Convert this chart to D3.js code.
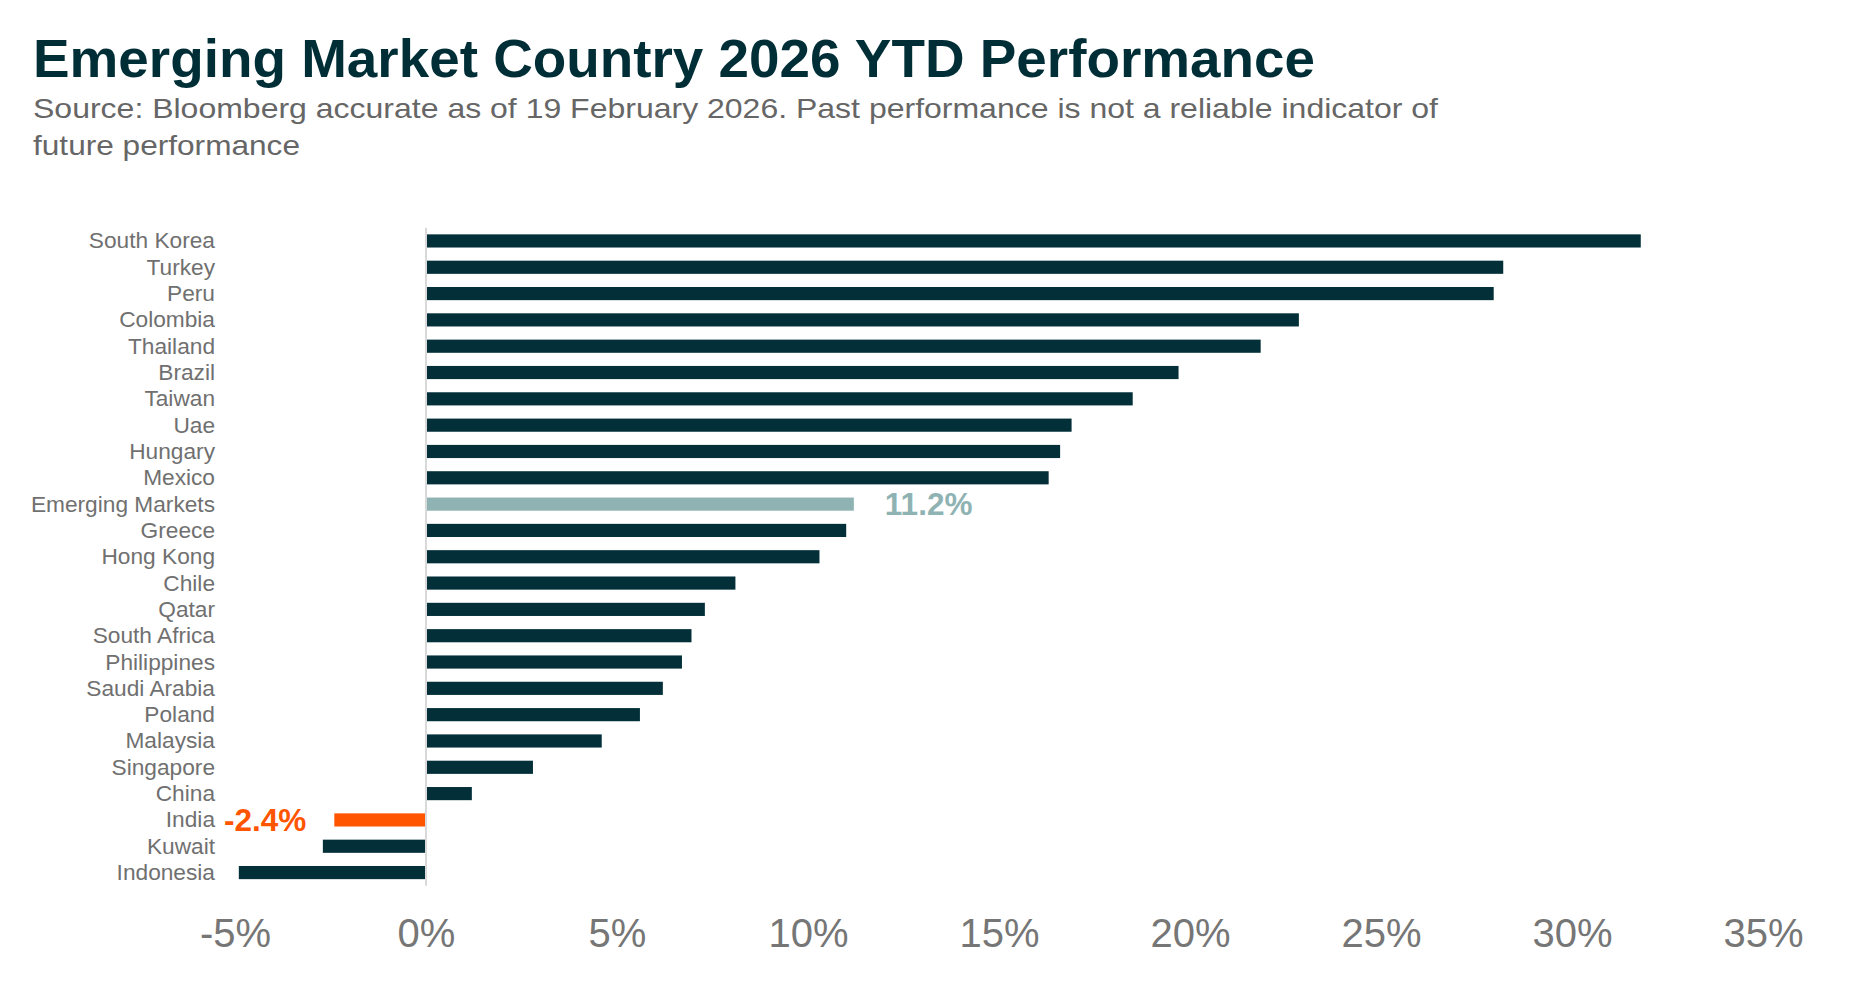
<!DOCTYPE html>
<html>
<head>
<meta charset="utf-8">
<script src="https://cdn.jsdelivr.net/npm/d3@7"></script>
<style>
  body { margin: 0; background: #fff; }
  svg { display: block; font-family: "Liberation Sans", Arial, sans-serif; }
</style>
</head>
<body>
<div id="chart-container"></div>
<script>
const countries = [
  "South Korea", "Turkey", "Peru", "Colombia", "Thailand", "Brazil", "Taiwan",
  "Uae", "Hungary", "Mexico", "Emerging Markets", "Greece", "Hong Kong", "Chile",
  "Qatar", "South Africa", "Philippines", "Saudi Arabia", "Poland", "Malaysia",
  "Singapore", "China", "India", "Kuwait", "Indonesia"
];
const ytdReturns = [
  31.8, 28.2, 27.95, 22.85, 21.85, 19.7, 18.5,
  16.9, 16.6, 16.3, 11.2, 11.0, 10.3, 8.1,
  7.3, 6.95, 6.7, 6.2, 5.6, 4.6,
  2.8, 1.2, -2.4, -2.7, -4.9
];
const tickValues = [-5, 0, 5, 10, 15, 20, 25, 30, 35];
const highlighted = ["Emerging Markets", "India"];
const highlightLabels = ["11.2%", "-2.4%"];

const titleText = "Emerging Market Country 2026 YTD Performance";
const subtitleLines = [
  "Source: Bloomberg accurate as of 19 February 2026. Past performance is not a reliable indicator of",
  "future performance"
];

(function () {
  const width = 1857;
  const height = 985;
  const data = countries.map((name, i) => ({ name, value: ytdReturns[i] }));

  const barColor = "#022f38";
  const colorFor = (name) =>
    name === "Emerging Markets" ? "#8fb3b3" : name === "India" ? "#ff5500" : barColor;

  const x = d3.scaleLinear().domain([-5, 35]).range([235, 1763]);
  const y = d3
    .scaleBand()
    .domain(countries)
    .range([221.2, 892.3])
    .padding(0.5);

  const svg = d3
    .select("#chart-container")
    .append("svg")
    .attr("viewBox", [0, 0, width, height])
    .attr("width", width)
    .attr("height", height);

  svg
    .append("text")
    .attr("x", 33)
    .attr("y", 77)
    .attr("fill", "#002e36")
    .attr("textLength", 1282)
    .attr("lengthAdjust", "spacingAndGlyphs")
    .style("font-size", "54px")
    .style("font-weight", "bold")
    .text(titleText);

  const subtitleWidths = [1405, 267];
  svg
    .append("g")
    .selectAll("text")
    .data(subtitleLines)
    .join("text")
    .attr("x", 33)
    .attr("y", (d, i) => 118 + i * 37)
    .attr("fill", "#666666")
    .attr("textLength", (d, i) => subtitleWidths[i])
    .attr("lengthAdjust", "spacingAndGlyphs")
    .style("font-size", "28.5px")
    .text((d) => d);

  // bars
  svg
    .append("g")
    .selectAll("rect")
    .data(data)
    .join("rect")
    .attr("x", (d) => x(Math.min(0, d.value)))
    .attr("y", (d) => y(d.name))
    .attr("width", (d) => Math.abs(x(d.value) - x(0)))
    .attr("height", y.bandwidth())
    .attr("fill", (d) => colorFor(d.name));

  // zero line
  const step = y.step();
  svg
    .append("line")
    .attr("x1", x(0))
    .attr("x2", x(0))
    .attr("y1", y.range()[0] + step * 0.25)
    .attr("y2", y.range()[1] - step * 0.25)
    .attr("stroke", "#d9d9d9")
    .attr("stroke-width", 2);

  // country labels
  const yAxis = svg
    .append("g")
    .attr("transform", "translate(215,0)")
    .call(d3.axisLeft(y).tickSize(0).tickPadding(0));
  yAxis.select(".domain").remove();
  yAxis
    .selectAll("text")
    .attr("fill", "#707070")
    .attr("dy", "0.33em")
    .style("font-size", "22.7px")
    .style("font-family", "'Liberation Sans', Arial, sans-serif");

  // x axis
  const xAxis = svg
    .append("g")
    .attr("transform", "translate(0,885)")
    .call(
      d3
        .axisBottom(x)
        .tickValues(tickValues)
        .tickSize(0)
        .tickPadding(34)
        .tickFormat((d) => d + "%")
    );
  xAxis.select(".domain").remove();
  xAxis
    .selectAll("text")
    .attr("fill", "#767676")
    .style("font-size", "40px")
    .style("font-family", "'Liberation Sans', Arial, sans-serif");

  // value call-outs
  const callouts = data.filter((d) => highlighted.includes(d.name));
  svg
    .append("g")
    .selectAll("text")
    .data(callouts)
    .join("text")
    .attr("x", (d) => (d.value >= 0 ? x(d.value) + 31 : x(d.value) - 28))
    .attr("y", (d) => y(d.name) + y.bandwidth() / 2)
    .attr("dy", "0.36em")
    .attr("text-anchor", (d) => (d.value >= 0 ? "start" : "end"))
    .attr("fill", (d) => colorFor(d.name))
    .style("font-size", "31.5px")
    .style("font-weight", "bold")
    .text((d) => highlightLabels[highlighted.indexOf(d.name)]);
})();
</script>
</body>
</html>
